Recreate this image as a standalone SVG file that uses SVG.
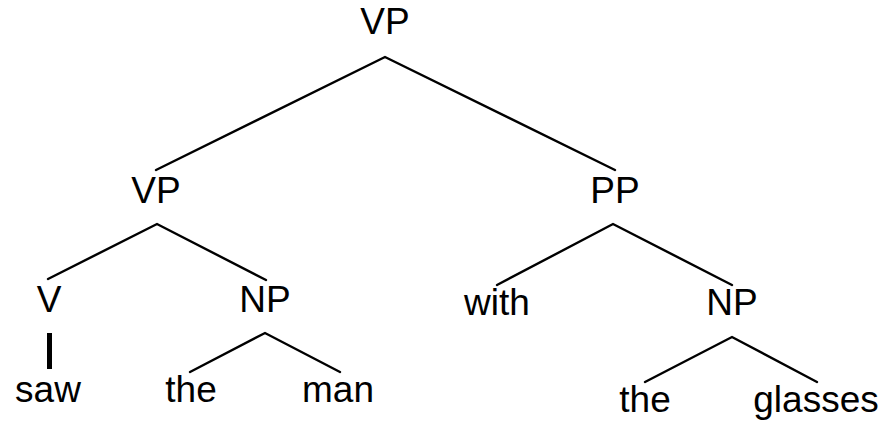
<svg xmlns="http://www.w3.org/2000/svg" width="893" height="422" viewBox="0 0 893 422">
  <style>
    .lbl { font-family: "Liberation Sans", Arial, sans-serif; font-size: 37px; fill: #000; text-anchor: middle; }
    .edge { stroke: #000; stroke-width: 2.4; fill: none; stroke-linecap: round; }
    .unary { stroke: #000; stroke-width: 5; fill: none; }
  </style>
  <rect width="893" height="422" fill="#fff"/>

  <!-- tree edges -->
  <g id="edges">
    <polyline class="edge" points="156,170 385,57 615,170"/>
    <polyline class="edge" points="48,279 157,224 266,280"/>
    <polyline class="edge" points="497,285 613,224 732,285"/>
    <polyline class="edge" points="190,372 265,333 340,372"/>
    <polyline class="edge" points="645,382 732,337 817,382"/>
    <line class="unary" x1="49.5" y1="333" x2="49.5" y2="369"/>
  </g>

  <!-- phrase and word nodes -->
  <g id="vp-root"><text class="lbl" x="385" y="34">VP</text></g>
  <g id="vp"><text class="lbl" x="156" y="203">VP</text></g>
  <g id="pp"><text class="lbl" x="615" y="203">PP</text></g>
  <g id="v"><text class="lbl" x="49" y="312">V</text></g>
  <g id="np-obj"><text class="lbl" x="265" y="312">NP</text></g>
  <g id="with"><text class="lbl" x="497" y="315">with</text></g>
  <g id="np-pp"><text class="lbl" x="732" y="315">NP</text></g>
  <g id="saw"><text class="lbl" x="48" y="402">saw</text></g>
  <g id="the-1"><text class="lbl" x="191" y="402">the</text></g>
  <g id="man"><text class="lbl" x="338" y="402">man</text></g>
  <g id="the-2"><text class="lbl" x="645" y="412">the</text></g>
  <g id="glasses"><text class="lbl" x="816" y="412">glasses</text></g>
</svg>
